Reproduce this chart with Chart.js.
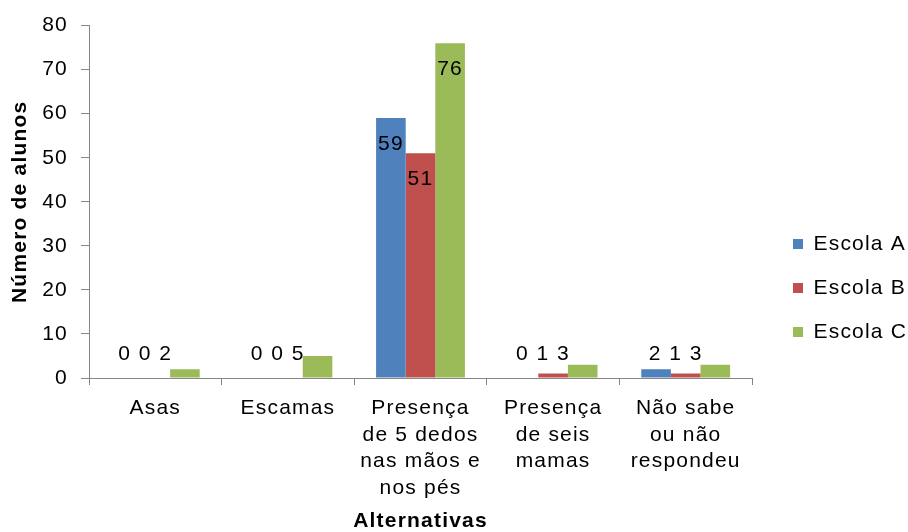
<!DOCTYPE html>
<html>
<head>
<meta charset="utf-8">
<script src="https://cdn.jsdelivr.net/npm/chart.js@4/dist/chart.umd.min.js"></script>
<style>
  html, body { margin: 0; padding: 0; background: #fff; }
  #wrap { width: 908px; height: 532px; }
</style>
</head>
<body>
<div id="wrap"><canvas id="alunosChart"></canvas></div>
<script>
/* Data */
const categories = [
    'Asas',
    'Escamas',
    ['Presença', 'de 5 dedos', 'nas mãos e', 'nos pés'],
    ['Presença', 'de seis', 'mamas'],
    ['Não sabe', 'ou não', 'respondeu']
];
const escola_a = [0, 0, 59, 0, 2];
const escola_b = [0, 0, 51, 1, 1];
const escola_c = [2, 5, 76, 3, 3];
const y_ticks = [0, 10, 20, 30, 40, 50, 60, 70, 80];

const axisGray = '#868686';
const font = 'Liberation Sans, Arial, sans-serif';
const spacing = '1.2px';

// wide letter spacing on every text, the legend box pushed right and down
const textStyle = {
    id: 'textStyle',
    beforeLayout(chart) {
        chart.ctx.letterSpacing = spacing;
        const legend = chart.legend;
        if (legend && !legend._wide) {
            const fit = legend.fit;
            legend.fit = function () {
                fit.call(this);
                this.width = 156;
            };
            legend._wide = true;
        }
    },
    afterLayout(chart) {
        const legend = chart.legend;
        legend.left += 18;
        legend.right += 18;
        legend.top += 16;
        legend.bottom += 16;
    },
    beforeDraw(chart) {
        chart.ctx.letterSpacing = spacing;
    }
};

// value labels: inside the top of tall bars; for short bars they sit
// above the axis, packed together in one row
const barLabels = {
    id: 'barLabels',
    afterDatasetsDraw(chart) {
        const ctx = chart.ctx;
        const base = chart.scales.y.getPixelForValue(0);
        ctx.save();
        ctx.letterSpacing = spacing;
        ctx.font = '21px ' + font;
        ctx.fillStyle = '#000';
        ctx.textAlign = 'center';
        ctx.textBaseline = 'middle';
        chart.data.datasets.forEach((ds, i) => {
            chart.getDatasetMeta(i).data.forEach((bar, j) => {
                let x = bar.x;
                let y = bar.y + 26;
                if (y > base - 24) {
                    y = base - 24;
                    x = chart.getDatasetMeta(0).data[j].x - 1 + i * 20.5;
                }
                ctx.fillText(String(ds.data[j]), x, y);
            });
        });
        ctx.restore();
    }
};

new Chart('alunosChart', {
    type: 'bar',
    data: {
        labels: categories,
        datasets: [
            { label: 'Escola A', data: escola_a, backgroundColor: '#4f81bd' },
            { label: 'Escola B', data: escola_b, backgroundColor: '#c0504d' },
            { label: 'Escola C', data: escola_c, backgroundColor: '#9bbb59' }
        ]
    },
    options: {
        responsive: true,
        maintainAspectRatio: false,
        animation: false,
        layout: { padding: { top: 12, left: 0, right: 0, bottom: 0 } },
        datasets: {
            bar: { barPercentage: 1, categoryPercentage: 0.67 }
        },
        scales: {
            x: {
                afterFit(scale) { scale.height = 154; },
                grid: { display: true, drawOnChartArea: false, offset: true, color: axisGray, tickLength: 7 },
                border: { color: axisGray },
                ticks: { color: '#000', font: { family: font, size: 21, lineHeight: 1.27 }, padding: 10, maxRotation: 0, autoSkip: false },
                title: { display: true, text: 'Alternativas', color: '#000', font: { family: font, size: 21, weight: 'bold', lineHeight: 1 }, padding: { top: 0, bottom: 0 } }
            },
            y: {
                min: 0,
                max: 80,
                afterFit(scale) { scale.width = 89; },
                afterBuildTicks(scale) { scale.ticks = y_ticks.map(v => ({ value: v })); },
                grid: { display: true, drawOnChartArea: false, color: axisGray, tickLength: 8 },
                border: { color: axisGray },
                ticks: { color: '#000', font: { family: font, size: 21 }, padding: 13 },
                title: { display: true, text: 'Número de alunos', color: '#000', font: { family: font, size: 21, weight: 'bold' }, padding: { top: 8, bottom: 0 } }
            }
        },
        plugins: {
            legend: {
                position: 'right',
                labels: { boxWidth: 10, boxHeight: 10, padding: 23, color: '#000', font: { family: font, size: 21 } }
            },
            tooltip: { enabled: false }
        }
    },
    plugins: [textStyle, barLabels]
});
</script>
</body>
</html>
